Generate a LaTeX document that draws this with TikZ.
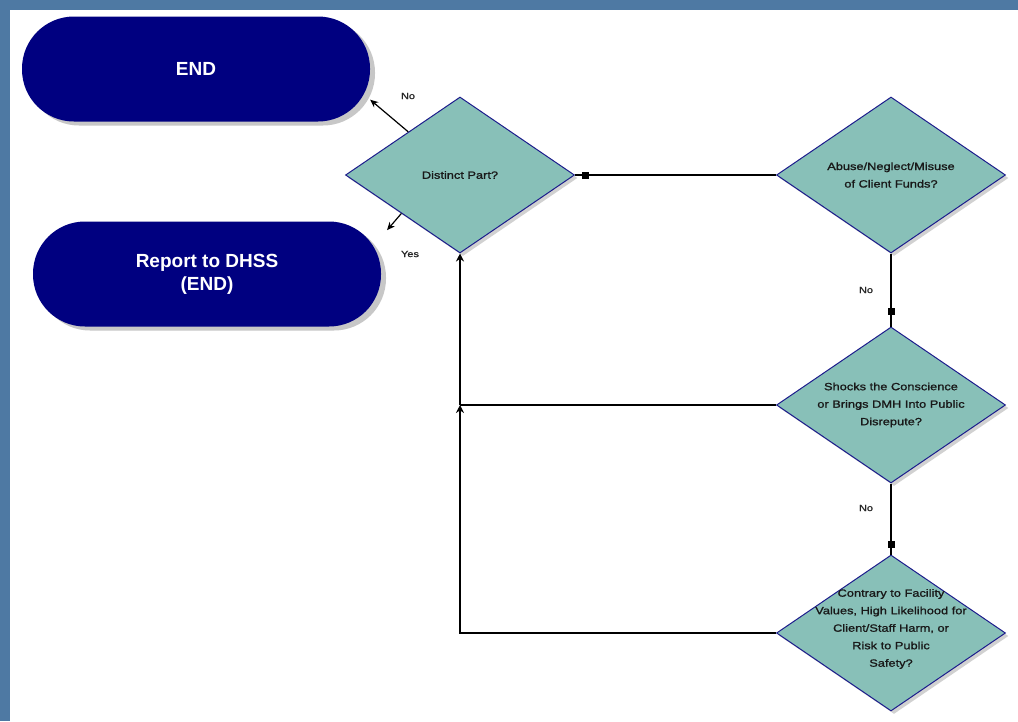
\documentclass[tikz,border=0pt]{standalone}
\usepackage{fontspec}
\setmainfont{Liberation Sans}
\newfontfamily\qfont[FakeStretch=1.22,FakeBold=1.3]{Liberation Sans}
\usetikzlibrary{shapes.geometric,arrows.meta,shadows,calc}
\definecolor{slate}{RGB}{78,121,163}
\definecolor{navyfill}{RGB}{0,0,128}
\definecolor{qfill}{RGB}{136,192,184}
\definecolor{qedge}{RGB}{28,28,140}
\begin{document}
\begin{tikzpicture}[x=1pt,y=-1pt,
  terminal/.style={rectangle, rounded corners=52pt, minimum width=348pt,
    minimum height=105pt, inner sep=0pt, fill=navyfill, text=white,
    font=\fontsize{19}{23}\selectfont\bfseries, align=center,
    drop shadow={shadow xshift=5pt, shadow yshift=-4pt, fill=black!22, opacity=1}},
  decision/.style={diamond, minimum width=229pt, minimum height=156pt,
    inner sep=0pt, fill=qfill, draw=qedge, line width=1pt,
    drop shadow={shadow xshift=3pt, shadow yshift=-3pt, fill=black!18, opacity=1}},
  qtext/.style={font=\qfont\fontsize{10.5}{17.5}\selectfont, align=center,
    text=black!90, inner sep=0pt},
  lbl/.style={font=\qfont\fontsize{9}{10}\selectfont, text=black!85, inner sep=0pt},
  conn/.style={draw=black, line width=1.7pt},
  thinarrow/.style={draw=black, line width=1.2pt, -{Stealth[length=8pt,width=7pt]}},
  sqmark/.style={rectangle, fill=black, minimum size=7pt, inner sep=0pt},
  upmark/.style={-{Stealth[length=8pt,width=8pt]}}]
\useasboundingbox (0,0) rectangle (1018,721);
% frame and canvas
\fill[slate] (0,0) rectangle (1018,721);
\fill[white] (10,10) rectangle (1018,721);

% terminals
\node[terminal] (end) at (196,69) {END};
\node[terminal] (rep) at (207,274) {Report to DHSS\\(END)};

% decisions
\node[decision] (d1) at (460,175) {};
\node[decision] (d2) at (891,175) {};
\node[decision] (d3) at (891,405) {};
\node[decision] (d4) at (891,633) {};

\node[qtext] (t1) at (d1) {Distinct Part?};
\node[qtext] (t2) at (d2) {Abuse/Neglect/Misuse\\of Client Funds?};
\node[qtext] (t3) at (d3) {Shocks the Conscience\\or Brings DMH Into Public\\Disrepute?};
\node[qtext] (t4) at ([yshift=4pt]d4.center) {Contrary to Facility\\Values, High Likelihood for\\Client/Staff Harm, or\\Risk to Public\\Safety?};

% decision outcomes of the first question
\coordinate (noout) at ($(d1.west)!0.55!(d1.north)$);
\coordinate (yesout) at ($(d1.west)!0.49!(d1.south)$);
\draw[thinarrow] (noout) -- (end.-10);
\draw[thinarrow, shorten >=9pt] (yesout) -- (rep.12);
\node[lbl] (lno) at (408,96) {No};
\node[lbl] (lyes) at (410,254) {Yes};

% chain of questions on the right
\draw[conn] (d1.east) -- node[sqmark, pos=0.05] {} (d2.west);
\draw[conn] (d2.south) -- node[sqmark, pos=0.8] {} (d3.north);
\draw[conn] (d3.south) -- node[sqmark, pos=0.86] {} (d4.north);
\node[lbl] (lno2) at (866,290) {No};
\node[lbl] (lno3) at (866,508) {No};

% return path back to the first question
\coordinate (j) at (d1.south |- d3.west);
\draw[conn] (d3.west) -- (j);
\draw[conn, upmark] (d4.west) -| (j);
\draw[conn, upmark] (j) -- (d1.south);
\end{tikzpicture}
\end{document}
